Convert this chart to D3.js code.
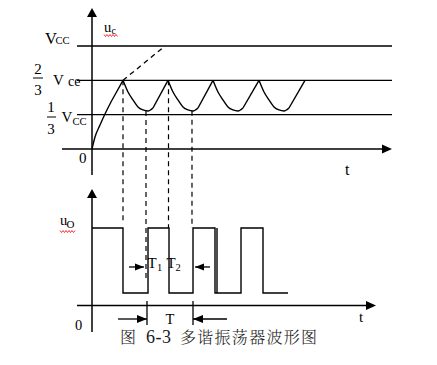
<!DOCTYPE html>
<html><head><meta charset="utf-8">
<script src="https://cdn.jsdelivr.net/npm/d3@7"></script>
<style>html,body{margin:0;padding:0;background:#fff;} svg{display:block}</style>
</head><body><svg id="c" width="437" height="365"></svg>
<script>
// ---------- data ----------
const refLevels = [1, 2/3, 1/3];                       // Vcc, 2/3 Vcc, 1/3 Vcc
const chargeT = [0, 1, 2.67, 4.33, 6.33, 8, 10.33];
const chargeV = [0, 0.117, 0.233, 0.34, 0.456, 0.544, 0.667];
const peakT = [10.33, 25.33, 40.33, 55.67];
const riseEndT = [25.33, 40.33, 55.67, 71];
const decayDT = [0, 1.67, 3.33, 5, 6.67, 8.33, 10];
const decayV = [0.667, 0.553, 0.476, 0.408, 0.379, 0.369, 0.398];
const riseEndV = 0.667;
const extT = [10.33, 24.33];
const extV = [0.667, 1];
const uoEdgeT = [10.33, 18.67, 25.67, 33.67, 41, 49.67, 57];
const uoStartT = 0, uoEndT = 65.33;
const uoLevels = [1, 0.161];                           // high, low
const uoExtraEdgeT = [41.67];
const guideT = [10.33, 18, 25.5, 33.33];
const guideFromV = [0.667, 0.369, 0.667, 0.372];
const guideToUo = [1.07, 0.33, 1.0, 1.0];
const periodMarkT = [18.33, 33.67];
const t12ArrowT = [[12.33, 17.33], [39.33, 34.33]];
const periodArrowT = [[8.67, 18.33], [45, 33.67]];
const captionParts = ["图", "6-3", "多谐振荡器波形图"];

// ---------- scales ----------
const svg = d3.select("#c");
const x = d3.scaleLinear().domain([0, 100]).range([92, 392]);
const yTop = d3.scaleLinear().domain([0, 1]).range([149, 46]);
const yBot = d3.scaleLinear().domain([0, 1]).range([305.5, 228]);
const serif = "'Liberation Serif','Times New Roman',serif";

const line = d3.line().x(d => d[0]).y(d => d[1]);
function seg(pts, w, dash) {
  const p = svg.append("path").attr("d", line(pts)).attr("fill", "none")
    .attr("stroke", "#000").attr("stroke-width", w || 1.3);
  if (dash) p.attr("stroke-dasharray", dash);
  return p;
}
function head(tipX, tipY, dir, len, half) {
  let pts;
  if (dir === "up") pts = [[tipX, tipY], [tipX - half, tipY + len], [tipX + half, tipY + len]];
  else if (dir === "right") pts = [[tipX, tipY], [tipX - len, tipY - half], [tipX - len, tipY + half]];
  else pts = [[tipX, tipY], [tipX + len, tipY - half], [tipX + len, tipY + half]];
  svg.append("path").attr("d", line(pts) + "Z").attr("fill", "#000");
}
function txt(s, px, py, size, opts) {
  opts = opts || {};
  const t = svg.append("text").attr("x", px).attr("y", py).text(s)
    .attr("font-family", opts.family || serif).attr("font-size", size)
    .attr("fill", opts.fill || "#000");
  if (opts.anchor) t.attr("text-anchor", opts.anchor);
  if (opts.len) t.attr("textLength", opts.len).attr("lengthAdjust", "spacing");
  if (opts.weight) t.attr("font-weight", opts.weight);
  if (opts.ls) t.attr("letter-spacing", opts.ls);
  return t;
}
function wavy(x0, x1, yy) {
  const pts = [];
  let k = 0;
  for (let xx = x0; xx <= x1; xx += 1.5, k++) pts.push([xx, yy + (k % 2 ? 1 : -1)]);
  svg.append("path").attr("d", line(pts)).attr("fill", "none")
    .attr("stroke", "#e00").attr("stroke-width", 0.8);
}

// ---------- top panel: u_c ----------
refLevels.forEach(v => seg([[x(-5), yTop(v)], [x(100), yTop(v)]], 1.3));
seg([[x(-10), yTop(0)], [x(97), yTop(0)]], 1.5);
head(x(100), yTop(0), "right", 10, 4.5);
seg([[x(0), 175], [x(0), 14]], 1.5);
head(x(0), 8, "up", 9, 5);

svg.append("path")
  .attr("d", d3.line().x(d => x(d[0])).y(d => yTop(d[1])).curve(d3.curveMonotoneX)(chargeT.map((t, i) => [t, chargeV[i]])))
  .attr("fill", "none").attr("stroke", "#000").attr("stroke-width", 1.4);
seg(extT.map((t, i) => [x(t), yTop(extV[i])]), 1.3, "5,4");
peakT.forEach((p, c) => {
  const pts = decayDT.map((d, i) => [p + d, decayV[i]]);
  svg.append("path")
    .attr("d", d3.line().x(d => x(d[0])).y(d => yTop(d[1])).curve(d3.curveMonotoneX)(pts))
    .attr("fill", "none").attr("stroke", "#000").attr("stroke-width", 1.4);
  const last = pts[pts.length - 1];
  seg([[x(last[0]), yTop(last[1])], [x(riseEndT[c]), yTop(riseEndV)]], 1.4);
});

guideT.forEach((t, i) => seg([[x(t), yTop(guideFromV[i])], [x(t), yBot(guideToUo[i])]], 1.2, "5,4"));

// labels top
txt("V", 45, 44, 16.5);
txt("CC", 55.5, 44, 10.5);
txt("2", 38, 74, 15, { anchor: "middle" });
seg([[33, 78], [43, 78]], 1);
txt("3", 38, 95, 15, { anchor: "middle" });
txt("V", 53, 85, 15);
txt("ce", 68, 86, 14);
txt("1", 51, 112, 15, { anchor: "middle" });
seg([[47, 117], [56, 117]], 1);
txt("3", 51, 134, 15, { anchor: "middle" });
txt("V", 61.5, 122, 15);
txt("CC", 72.5, 125, 10.5);
txt("0", 79, 163, 15);
txt("t", 345, 175, 16);
txt("u", 104, 32, 14.5);
txt("c", 111.5, 33.5, 10);
wavy(104, 118, 35.5);

// ---------- bottom panel: u_o ----------
seg([[x(-5), yBot(0)], [x(91.5), yBot(0)]], 1.5);
head(x(94.67), yBot(0), "right", 10, 4.5);
seg([[x(0), 332], [x(0), 195]], 1.5);
head(x(0), 189, "up", 9, 5);

const [HI, LO] = uoLevels;
const sq = [[uoStartT, HI]];
let lvl = HI;
uoEdgeT.forEach(t => { sq.push([t, lvl]); lvl = lvl === HI ? LO : HI; sq.push([t, lvl]); });
sq.push([uoEndT, lvl]);
seg(sq.map(d => [x(d[0]), yBot(d[1])]), 1.4);
uoExtraEdgeT.forEach(t => seg([[x(t), yBot(HI)], [x(t), yBot(LO)]], 1.4));

const yT12 = yBot(0.497);
t12ArrowT.forEach(a => {
  seg([[x(a[0]), yT12], [x(a[1]), yT12]], 1.3);
  head(x(a[1]), yT12, a[1] > a[0] ? "right" : "left", 9, 3.5);
});
txt("T", 147.5, 268, 15);
txt("1", 157, 271, 10.5);
txt("T", 166.5, 268, 15);
txt("2", 175.5, 271, 10.5);

periodMarkT.forEach(t => seg([[x(t), 301], [x(t), 325]], 1.3));
const yP = 319;
periodArrowT.forEach(a => {
  seg([[x(a[0]), yP], [x(a[1]), yP]], 1.3);
  head(x(a[1]), yP, a[1] > a[0] ? "right" : "left", 10, 4);
});
txt("T", 170, 324, 14.5, { anchor: "middle" });
txt("0", 75, 329.5, 14.5);
txt("t", 359, 322, 15);
txt("u", 60, 225, 14.5);
txt("O", 66.5, 228, 11);
wavy(60, 76, 231.5);

// caption
const cjk = "'Noto Serif CJK SC','Noto Sans CJK SC',sans-serif";
txt(captionParts[0], 120, 343, 16, { family: cjk, fill: "#1a1a1a", weight: 300 });
txt(captionParts[1], 146, 343, 18, { fill: "#1a1a1a", ls: 0.5 });
txt(captionParts[2], 180, 343, 16, { family: cjk, fill: "#1a1a1a", weight: 300, len: 137 });
</script></body></html>
